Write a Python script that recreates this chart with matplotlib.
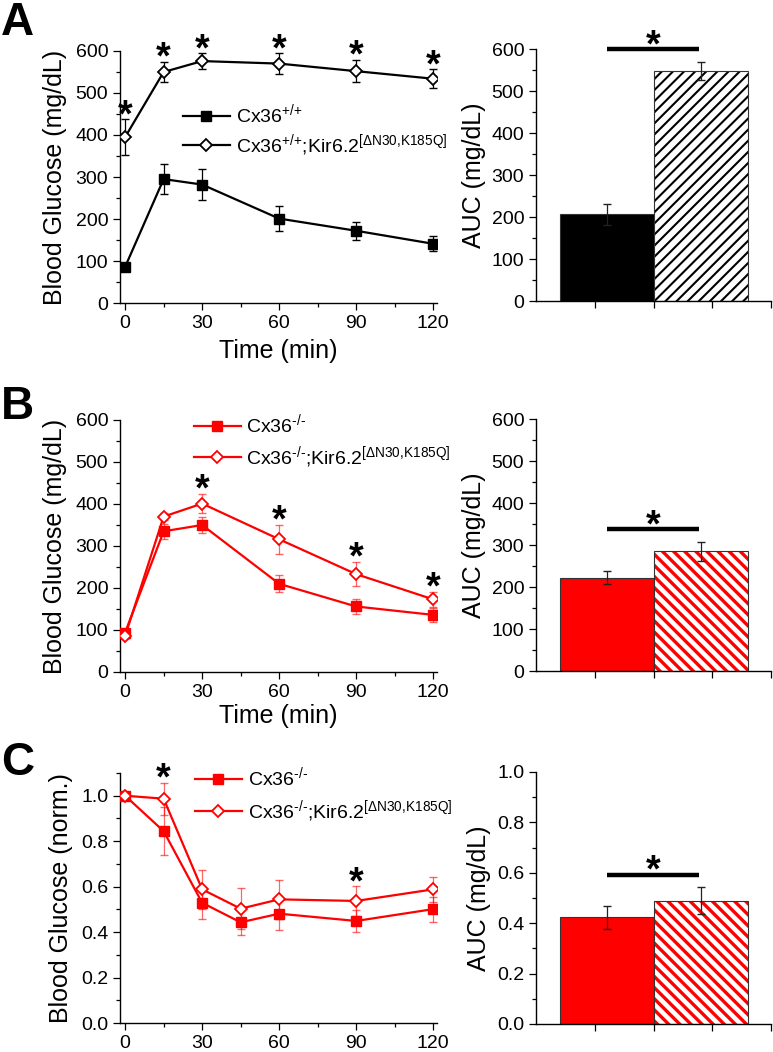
import matplotlib
matplotlib.use("Agg")
import matplotlib.pyplot as plt
from matplotlib.ticker import MultipleLocator
import numpy as np

plt.rcParams['font.family'] = ['Liberation Sans', 'DejaVu Sans']
plt.rcParams['mathtext.fontset'] = 'custom'
plt.rcParams['mathtext.rm'] = 'Liberation Sans'
plt.rcParams['mathtext.it'] = 'Liberation Sans:italic'
plt.rcParams['mathtext.bf'] = 'Liberation Sans:bold'

RED = '#ff0000'

# ---- data ----
time_a = [0, 15, 30, 60, 90, 120]
wt_a = [86, 295, 282, 201, 172, 141]
wt_a_err = [8, 36, 36, 30, 21, 18]
kir_a = [395, 550, 576, 570, 552, 534]
kir_a_err = [42, 24, 19, 25, 27, 22]
stars_a = [0, 15, 30, 60, 90, 120]
auc_a = [207, 548]
auc_a_err = [25, 22]

time_b = [0, 15, 30, 60, 90, 120]
ko_b = [94, 335, 350, 210, 156, 136]
ko_b_err = [8, 18, 20, 20, 17, 16]
kir_b = [86, 370, 401, 316, 233, 173]
kir_b_err = [8, 8, 23, 34, 29, 18]
stars_b = [30, 60, 90, 120]
auc_b = [222, 285]
auc_b_err = [15, 23]

time_c = [0, 15, 30, 45, 60, 90, 120]
ko_c = [1.0, 0.844, 0.529, 0.443, 0.481, 0.449, 0.501]
ko_c_err = [0.0, 0.106, 0.07, 0.055, 0.07, 0.05, 0.055]
kir_c = [1.0, 0.987, 0.588, 0.503, 0.544, 0.537, 0.588]
kir_c_err = [0.0, 0.07, 0.085, 0.09, 0.085, 0.065, 0.055]
stars_c = [15, 90]
auc_c = [0.423, 0.490]
auc_c_err = [0.047, 0.052]

kir_sup = '$^{\\mathrm{[ΔN30{,}K185Q]}}$'
lab_wt = 'Cx36$^{\\mathrm{{+}/{+}}}$'
lab_wt_kir = 'Cx36$^{\\mathrm{{+}/{+}}}$;Kir6.2' + kir_sup
lab_ko = 'Cx36$^{\\mathrm{‐/‐}}$'
lab_ko_kir = 'Cx36$^{\\mathrm{‐/‐}}$;Kir6.2' + kir_sup

W, H = 773, 1052
fig = plt.figure(figsize=(W / 100, H / 100), dpi=100)


def add_ax(l, t, r, b):
    return fig.add_axes([l / W, 1 - b / H, (r - l) / W, (b - t) / H])


def style(ax):
    for s in ['top', 'right']:
        ax.spines[s].set_visible(False)
    for s in ['left', 'bottom']:
        ax.spines[s].set_linewidth(1.0)
    ax.tick_params(which='major', direction='out', length=5, width=0.9, labelsize=14)
    ax.tick_params(which='minor', direction='out', length=3, width=0.9)


def star(ax, x, y, dy=-5):
    ax.annotate('*', xy=(x, y), xytext=(0, dy), textcoords='offset points',
                ha='center', va='baseline', fontsize=27, fontweight='bold',
                annotation_clip=False)


def line_panel(ax, t, y1, e1, y2, e2, col, lab1, lab2, stars, ylim, ymajor, yminor,
               anchor, ecol, ealpha, lspace):
    ax.errorbar(t, y1, yerr=e1, fmt='none', ecolor=ecol, elinewidth=0.9, capsize=3, alpha=ealpha, zorder=2)
    ax.errorbar(t, y2, yerr=e2, fmt='none', ecolor=ecol, elinewidth=0.9, capsize=3, alpha=ealpha, zorder=2)
    ax.plot(t, y1, '-s', color=col, lw=1.6, ms=7, mfc=col, mec=col, label=lab1, zorder=3)
    ax.plot(t, y2, '-D', color=col, lw=1.6, ms=6.5, mfc='white', mec=col, mew=1.3, label=lab2, zorder=3)
    for s in stars:
        i = t.index(s)
        star(ax, s, y2[i] + e2[i])
    ax.set_xlim(-2, 121.5)
    ax.set_ylim(*ylim)
    ax.xaxis.set_major_locator(MultipleLocator(30))
    ax.xaxis.set_minor_locator(MultipleLocator(15))
    ax.yaxis.set_major_locator(MultipleLocator(ymajor))
    ax.yaxis.set_minor_locator(MultipleLocator(yminor))
    style(ax)
    ax.legend(loc='upper left', bbox_to_anchor=anchor, frameon=False, fontsize=14,
              handlelength=2.4, handletextpad=0.3, borderpad=0, borderaxespad=0,
              labelspacing=lspace, numpoints=1)


def bar_panel(ax, vals, errs, col, hatch, ylim, ymajor, yminor, sig_y, hatch_lw):
    xs = [1.2, 2.8]
    ax.bar(xs[0], vals[0], width=1.6, color=col, edgecolor='#333333', linewidth=0.8, zorder=2)
    hb = ax.bar(xs[1], vals[1], width=1.6, color='white', edgecolor=col, linewidth=0, hatch=hatch, zorder=2)
    for p in hb:
        if hasattr(p, 'set_hatch_linewidth'):
            p.set_hatch_linewidth(hatch_lw)
    ax.bar(xs[1], vals[1], width=1.6, color='none', edgecolor='#333333', linewidth=0.8, zorder=3)
    ax.errorbar(xs, vals, yerr=errs, fmt='none', ecolor='#222222', elinewidth=0.9, capsize=3, zorder=4)
    ax.plot([xs[0], xs[1] - 0.03], [sig_y, sig_y], color='black', lw=3.2, solid_capstyle='butt', clip_on=False)
    star(ax, 2.0, sig_y, dy=-5)
    ax.set_xlim(0, 4)
    ax.set_xticks([1, 2, 3, 4])
    ax.set_xticklabels([])
    ax.set_ylim(*ylim)
    ax.yaxis.set_major_locator(MultipleLocator(ymajor))
    ax.yaxis.set_minor_locator(MultipleLocator(yminor))
    style(ax)
    ax.set_ylabel('AUC (mg/dL)', fontsize=18, labelpad=4)


# ---- panel A ----
axa = add_ax(120, 51, 437, 303)
line_panel(axa, time_a, wt_a, wt_a_err, kir_a, kir_a_err, 'black', lab_wt, lab_wt_kir,
           stars_a, (0, 600), 100, 50, (0.199, 0.795), 'black', 1.0, 0.3)
axa.set_xlabel('Time (min)', fontsize=18, labelpad=5)
axa.set_ylabel('Blood Glucose (mg/dL)', fontsize=18, labelpad=6)

axa2 = add_ax(536, 49, 771, 301)
bar_panel(axa2, auc_a, auc_a_err, 'black', '///', (0, 600), 100, 50, 599, 1.5)

# ---- panel B ----
axb = add_ax(120, 420, 437, 672)
line_panel(axb, time_b, ko_b, ko_b_err, kir_b, kir_b_err, RED, lab_ko, lab_ko_kir,
           stars_b, (0, 600), 100, 50, (0.233, 1.03), RED, 0.6, 0.4)
axb.set_xlabel('Time (min)', fontsize=18, labelpad=2)
axb.set_ylabel('Blood Glucose (mg/dL)', fontsize=18, labelpad=6)

axb2 = add_ax(536, 419, 771, 671)
bar_panel(axb2, auc_b, auc_b_err, RED, '\\\\\\', (0, 600), 100, 50, 338, 2.4)

# ---- panel C ----
axc = add_ax(120, 773, 437, 1023)
line_panel(axc, time_c, ko_c, ko_c_err, kir_c, kir_c_err, RED, lab_ko, lab_ko_kir,
           stars_c, (0, 1.1), 0.2, 0.1, (0.237, 1.03), RED, 0.6, 0.45)
axc.set_yticks([0, 0.2, 0.4, 0.6, 0.8, 1.0])
axc.yaxis.set_major_formatter(plt.FormatStrFormatter('%.1f'))
axc.set_ylabel('Blood Glucose (norm.)', fontsize=18, labelpad=6)

axc2 = add_ax(536, 772, 771, 1024)
bar_panel(axc2, auc_c, auc_c_err, RED, '\\\\\\', (0, 1.0), 0.2, 0.1, 0.593, 2.4)
axc2.yaxis.set_major_formatter(plt.FormatStrFormatter('%.1f'))

# panel letters
for txt, y in [('A', 1), ('B', 385), ('C', 741)]:
    fig.text(1 / W, 1 - y / H, txt, fontsize=33, fontweight='bold', ha='left', va='top')

fig.savefig('out.png', dpi=100)
